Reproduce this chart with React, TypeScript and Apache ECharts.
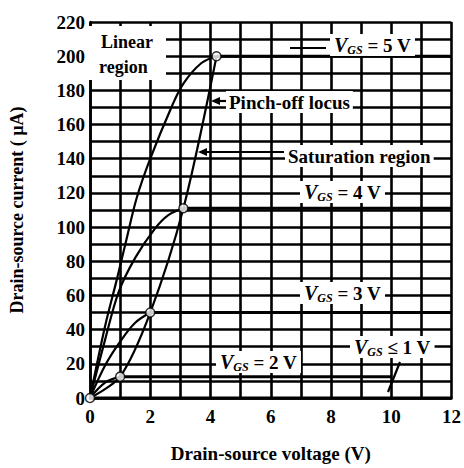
import React, { useEffect, useRef } from "react";
import * as echarts from "echarts";

// Output characteristic curves
const vds5 = [0, 0.5, 0.9, 1.2, 1.55, 2.0, 2.7, 3.1, 3.7, 4.2];
const id5 = [0, 42, 70, 92, 117, 140, 170, 184, 196, 200];
const vds4 = [0, 0.5, 0.95, 1.5, 2.15, 2.6, 3.1];
const id4 = [0, 34, 62, 82, 99, 107, 111];
const vds3 = [0, 0.5, 1.0, 1.5, 2.0];
const id3 = [0, 19, 33, 44, 50];
const vds2 = [0, 0.5, 1.0];
const id2 = [0, 9, 12.5];
// saturation region (flat) parts: [start V, end V, current]
const satStart = [4.2, 3.1, 2.0, 1.0, 0];
const satEnd = [12, 12, 12, 10, 12];
const satCurrent = [200, 111, 50, 12.5, 0];
// pinch-off locus points
const pinchV = [0, 1.0, 2.0, 3.1, 4.2];
const pinchI = [0, 12.5, 50, 111, 200];

const xTicks = [0, 2, 4, 6, 8, 10, 12];
const yTicks = [0, 20, 40, 60, 80, 100, 120, 140, 160, 180, 200, 220];

const zip = (a: number[], b: number[]) => a.map((v, i) => [v, b[i]]);

const SERIF = "'Liberation Serif', 'DejaVu Serif', serif";

export default function App() {
  const ref = useRef<HTMLDivElement>(null);
  useEffect(() => {
    document.body.style.margin = "0";
    const chart = echarts.init(ref.current!, null, { renderer: "svg" });
    const curveStyle = { color: "#000", width: 2.2 };
    const curve = (v: number[], i: number[]) => ({
      type: "line",
      data: zip(v, i),
      smooth: 0.35,
      showSymbol: false,
      lineStyle: curveStyle,
      z: 5,
    });
    const sat = satStart.map((s, k) => ({
      type: "line",
      data: [
        [s, satCurrent[k]],
        [satEnd[k], satCurrent[k]],
      ],
      showSymbol: false,
      lineStyle: { color: "#000", width: 3 },
      z: 5,
    }));
    const vgsRich = {
      i: { fontFamily: SERIF, fontStyle: "italic", fontWeight: "bold", fontSize: 20, fill: "#000", verticalAlign: "middle", lineHeight: 22 },
      s: { fontFamily: SERIF, fontStyle: "italic", fontWeight: "bold", fontSize: 12, fill: "#000", verticalAlign: "bottom", lineHeight: 22 },
      n: { fontFamily: SERIF, fontWeight: "bold", fontSize: 19, fill: "#000", verticalAlign: "middle", lineHeight: 22 },
    };
    const vgsLabel = (x: number, y: number, rest: string) => ({
      type: "text",
      x,
      y,
      z: 100,
      style: {
        text: "{i|V}{s|GS}{n|" + rest + "}",
        rich: vgsRich,
        backgroundColor: "#fff",
        padding: [0, 4, 0, 4],
        verticalAlign: "middle",
      },
    });
    const plainLabel = (x: number, y: number, text: string, size = 18) => ({
      type: "text",
      x,
      y,
      z: 100,
      style: {
        text,
        fontFamily: SERIF,
        fontWeight: "bold",
        fontSize: size,
        fill: "#000",
        backgroundColor: "#fff",
        padding: [0, 3, 0, 3],
        verticalAlign: "middle",
        lineHeight: 22,
      },
    });
    const seg = (x1: number, y1: number, x2: number, y2: number) => ({
      type: "line",
      z: 100,
      shape: { x1, y1, x2, y2 },
      style: { stroke: "#000", lineWidth: 2.2 },
    });
    const head = (x: number, y: number) => ({
      type: "polygon",
      z: 100,
      shape: { points: [[x, y], [x + 9, y - 4], [x + 9, y + 4]] },
      style: { fill: "#000" },
    });

    chart.setOption({
      animation: false,
      grid: { left: 84, right: 5, top: 22, bottom: 70 },
      xAxis: {
        type: "value",
        min: 0,
        max: 12,
        interval: 1,
        name: "Drain-source voltage (V)",
        nameLocation: "middle",
        nameGap: 46,
        nameTextStyle: { fontFamily: SERIF, fontWeight: "bold", fontSize: 19, color: "#000" },
        axisLine: { show: true, lineStyle: { color: "#000", width: 2.5 } },
        axisTick: { show: false },
        axisLabel: {
          margin: 9,
          fontFamily: SERIF,
          fontWeight: "bold",
          fontSize: 19,
          color: "#000",
          formatter: (v: number) => (xTicks.includes(v) ? String(v) : ""),
        },
        splitLine: { show: true, lineStyle: { color: "#000", width: 2.6 } },
      },
      yAxis: {
        type: "value",
        min: 0,
        max: 220,
        interval: 10,
        name: "Drain-source current ( µA)",
        nameLocation: "middle",
        nameGap: 64,
        nameTextStyle: { fontFamily: SERIF, fontWeight: "bold", fontSize: 18, color: "#000" },
        axisLine: { show: true, lineStyle: { color: "#000", width: 2.5 } },
        axisTick: { show: false },
        axisLabel: {
          margin: 5,
          fontFamily: SERIF,
          fontWeight: "bold",
          fontSize: 19,
          color: "#000",
          formatter: (v: number) => (yTicks.includes(v) ? String(v) : ""),
        },
        splitLine: { show: true, lineStyle: { color: "#000", width: 2.6 } },
      },
      series: [
        curve(vds5, id5),
        curve(vds4, id4),
        curve(vds3, id3),
        curve(vds2, id2),
        { ...curve(pinchV, pinchI), smooth: 0.3 },
        ...sat,
        {
          type: "scatter",
          data: zip(pinchV, pinchI),
          symbol: "circle",
          symbolSize: 9,
          itemStyle: { color: "#fff", borderColor: "#000", borderWidth: 1.5 },
          z: 10,
        },
      ],
      graphic: [
        {
          type: "rect",
          z: 99,
          shape: { x: 88, y: 26, width: 78, height: 54 },
          style: { fill: "#fff" },
        },
        plainLabel(98, 42, "Linear", 18),
        plainLabel(96, 67, "region", 18),
        seg(290, 48, 326, 48),
        vgsLabel(330, 45, " = 5 V"),
        seg(218, 101, 228, 101),
        head(211, 101),
        plainLabel(226, 102, "Pinch-off locus", 19),
        seg(206, 152, 284, 152),
        head(198, 152),
        plainLabel(285, 156, "Saturation region", 19),
        vgsLabel(300, 192, " = 4 V"),
        vgsLabel(300, 293, " = 3 V"),
        vgsLabel(216, 362, " = 2 V"),
        vgsLabel(350, 347, " ≤ 1 V"),
        seg(400, 362, 388, 392),
      ],
    });
    return () => chart.dispose();
  }, []);
  return <div ref={ref} style={{ width: 464, height: 468 }} />;
}
